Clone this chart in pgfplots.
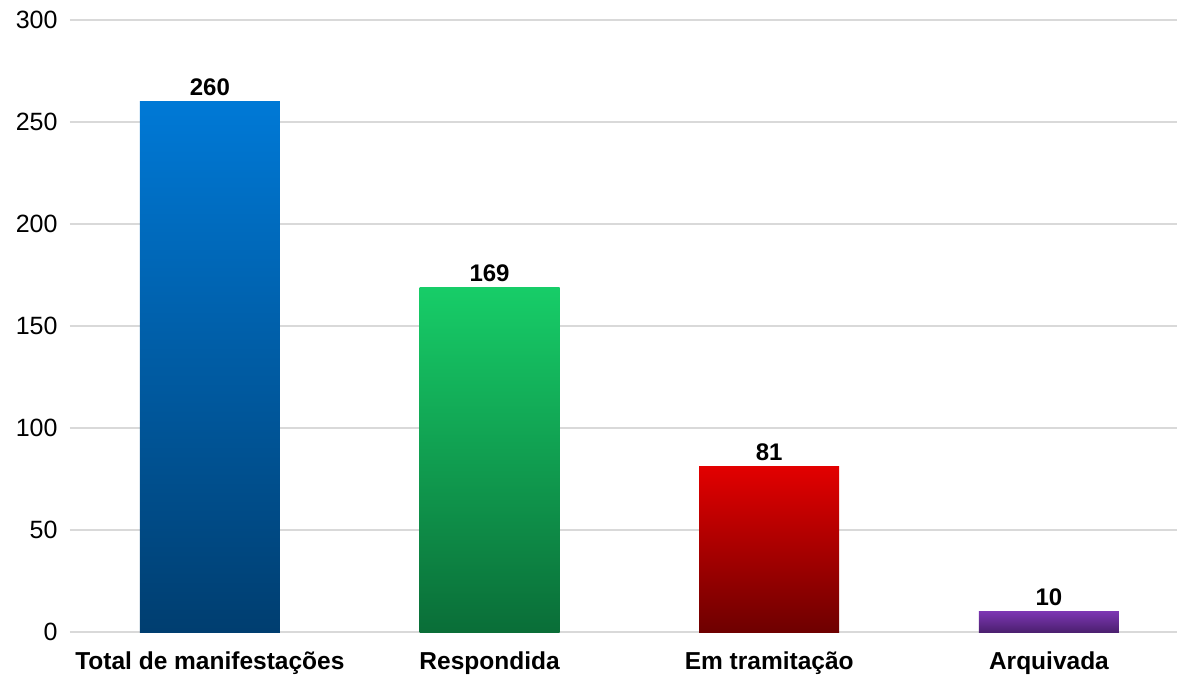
\documentclass[border=0pt]{standalone}
\usepackage{pgfplots}
\pgfplotsset{compat=1.18}
\usepackage{fontspec}
\setmainfont{Liberation Sans}
\definecolor{gridc}{HTML}{D9D9D9}
\begin{document}
\begin{tikzpicture}
\begin{axis}[
  at={(0,0)}, anchor=south west,
  scale only axis, width=1107pt, height=612pt,
  xmin=-0.5, xmax=3.458, ymin=0, ymax=300,
  ytick={0,50,...,300},
  xtick={0,1,2,3},
  xticklabels={Total de manifestações,Respondida,Em tramitação,Arquivada},
  axis line style={draw=none},
  major tick length=0pt,
  ymajorgrids, grid style={gridc, line width=1.3pt},
  /pgf/number format/assume math mode=true,
  yticklabel style={font=\fontsize{25}{28}\selectfont, text=black, xshift=-9pt},
  xticklabel style={font=\fontsize{24.5}{28}\selectfont\bfseries, text=black, yshift=-16pt},
  clip=false,
]
\addplot[ybar, bar width=140pt, bar shift=0pt, draw=none, top color={rgb,255:red,0;green,121;blue,214}, bottom color={rgb,255:red,0;green,62;blue,112}] coordinates {(0,260)};
\addplot[ybar, bar width=140pt, bar shift=0pt, draw=none, top color={rgb,255:red,23;green,205;blue,104}, bottom color={rgb,255:red,10;green,110;blue,56}] coordinates {(1,169)};
\addplot[ybar, bar width=140pt, bar shift=0pt, draw=none, top color={rgb,255:red,226;green,0;blue,0}, bottom color={rgb,255:red,110;green,0;blue,0}] coordinates {(2,81)};
\addplot[ybar, bar width=140pt, bar shift=0pt, draw=none, top color={rgb,255:red,124;green,54;blue,178}, bottom color={rgb,255:red,76;green,32;blue,112}] coordinates {(3,10)};
\addplot[draw=none, mark=none, nodes near coords, point meta=explicit symbolic,
  every node near coord/.append style={font=\fontsize{24}{28}\selectfont\bfseries, text=black, anchor=south, yshift=2pt}]
  coordinates {(0,260)[260] (1,169)[169] (2,81)[81] (3,10)[10]};
\end{axis}
\pgfresetboundingbox
\path[use as bounding box] (-70pt,-43pt) rectangle (1107pt,632pt);
\end{tikzpicture}
\end{document}
